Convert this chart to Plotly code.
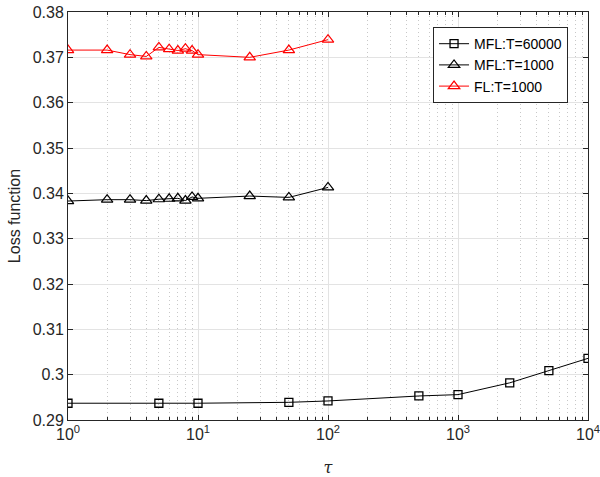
import plotly.graph_objects as go

tau_sq = [1, 5, 10, 50, 100, 500, 1000, 2500, 5000, 10000]
mfl_60000 = [0.2937, 0.2937, 0.2937, 0.2939, 0.2942, 0.2953, 0.2956, 0.2982, 0.3009, 0.3036]

tau_tri = [1, 2, 3, 4, 5, 6, 7, 8, 9, 10, 25, 50, 100]
mfl_1000 = [0.3383, 0.3386, 0.3386, 0.3384, 0.3387, 0.3388, 0.3389, 0.3384, 0.3392, 0.3389, 0.3394, 0.3391, 0.3413]
fl_1000 = [0.3716, 0.3716, 0.3706, 0.3702, 0.3722, 0.3718, 0.3715, 0.3719, 0.3715, 0.3706, 0.3700, 0.3716, 0.3739]

x_tickvals = [1, 10, 100, 1000, 10000]
x_ticktext = ["10<sup>0</sup>", "10<sup>1</sup>", "10<sup>2</sup>", "10<sup>3</sup>", "10<sup>4</sup>"]
x_minor = [m * 10 ** d for d in range(4) for m in range(2, 10)]
y_tickvals = [0.29, 0.30, 0.31, 0.32, 0.33, 0.34, 0.35, 0.36, 0.37, 0.38]
y_ticktext = ["0.29", "0.3", "0.31", "0.32", "0.33", "0.34", "0.35", "0.36", "0.37", "0.38"]

fig = go.Figure()
fig.add_trace(go.Scatter(x=tau_sq, y=mfl_60000, mode="lines+markers", name="MFL:T=60000",
                         line=dict(color="black", width=1),
                         marker=dict(symbol="square-open", size=8, color="black", line=dict(width=1.3))))
fig.add_trace(go.Scatter(x=tau_tri, y=mfl_1000, mode="lines+markers", name="MFL:T=1000",
                         line=dict(color="black", width=1),
                         marker=dict(symbol="triangle-up-open", size=10, color="black", line=dict(width=1.2))))
fig.add_trace(go.Scatter(x=tau_tri, y=fl_1000, mode="lines+markers", name="FL:T=1000",
                         line=dict(color="red", width=1),
                         marker=dict(symbol="triangle-up-open", size=10, color="red", line=dict(width=1.2))))

fig.update_layout(
    width=600, height=477, autosize=False,
    paper_bgcolor="white", plot_bgcolor="white",
    margin=dict(l=68, r=12, t=12, b=57),
    font=dict(family="Liberation Sans, Arial", size=16, color="#262626"),
    legend=dict(x=0.702, y=0.963, xanchor="left", yanchor="top",
                bgcolor="white", bordercolor="#262626", borderwidth=1,
                font=dict(size=14, color="black"), tracegroupgap=0),
    showlegend=True,
)
fig.update_xaxes(
    type="log", range=[0, 4], automargin=False, ticklabeloverflow="allow",
    tickmode="array", tickvals=x_tickvals, ticktext=x_ticktext,
    ticks="inside", ticklen=5, tickcolor="#262626",
    showline=True, linecolor="#262626", linewidth=1, mirror="ticks",
    showgrid=True, gridcolor="#e3e3e3", gridwidth=1,
    minor=dict(tickmode="array", tickvals=x_minor, ticks="inside", ticklen=3,
               tickcolor="#262626", showgrid=True, gridcolor="#c8c8c8",
               griddash="1px,3px", gridwidth=1),
    zeroline=False,
    title=dict(text="<i>τ</i>", font=dict(size=16, family="DejaVu Serif"), standoff=19),
    tickfont=dict(size=16),
)
fig.update_yaxes(
    range=[0.29, 0.38], automargin=False,
    tickmode="array", tickvals=y_tickvals, ticktext=y_ticktext,
    ticks="inside", ticklen=5, tickcolor="#262626",
    showline=True, linecolor="#262626", linewidth=1, mirror="ticks",
    showgrid=True, gridcolor="#e3e3e3", gridwidth=1,
    zeroline=False,
    title=dict(text="Loss function", font=dict(size=16), standoff=8),
    tickfont=dict(size=16),
)

fig.write_html("out.html", config={"displayModeBar": False},
               post_script="document.body.style.margin='0';")
